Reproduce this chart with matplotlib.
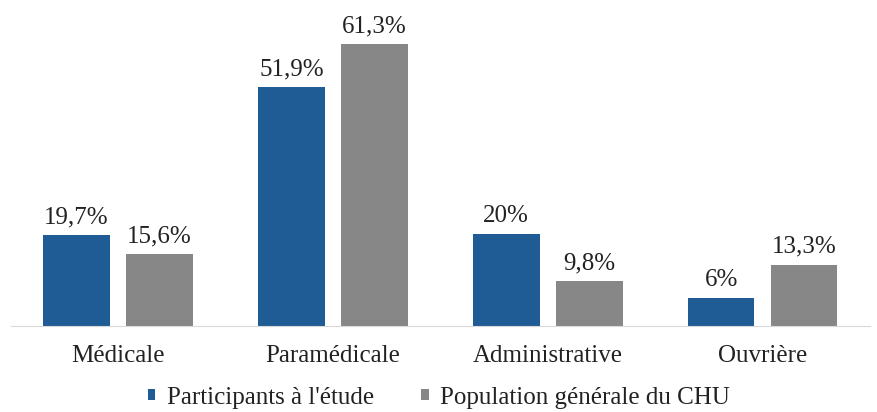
import numpy as np
import matplotlib.pyplot as plt

categories = ["Médicale", "Paramédicale", "Administrative", "Ouvrière"]
participants = [19.7, 51.9, 20, 6]
population = [15.6, 61.3, 9.8, 13.3]
participants_labels = ["19,7%", "51,9%", "20%", "6%"]
population_labels = ["15,6%", "61,3%", "9,8%", "13,3%"]

plt.rcParams['font.family'] = ['Liberation Serif', 'DejaVu Serif']

fig = plt.figure(figsize=(8.78, 4.12), dpi=100)
ax = fig.add_axes([0.012, 0.2087, 0.979, 0.781])

x = np.arange(len(categories))
w = 0.31
off = 0.193
b1 = ax.bar(x - off, participants, w, color='#1f5b94', label="Participants à l'étude")
b2 = ax.bar(x + off, population, w, color='#878787', label="Population générale du CHU")

for bars, labels in [(b1, participants_labels), (b2, population_labels)]:
    for bar, lab in zip(bars, labels):
        ax.annotate(lab, (bar.get_x() + bar.get_width() / 2, bar.get_height()),
                    xytext=(0, 5), textcoords='offset points',
                    ha='center', va='bottom', fontsize=18, color='#222222')

ax.set_xlim(-0.5, 3.5)
ax.set_ylim(0, 70)
ax.set_xticks(x)
ax.set_xticklabels(categories, fontsize=18, color='#222222')
ax.tick_params(axis='x', length=0, pad=14)
ax.set_yticks([])
for s in ['top', 'right', 'left']:
    ax.spines[s].set_visible(False)
ax.spines['bottom'].set_color('#d9d9d9')

fig.legend(loc='center', bbox_to_anchor=(0.5, 0.035), ncol=2, frameon=False,
           fontsize=18, handlelength=0.3, handleheight=0.3, handletextpad=0.45,
           columnspacing=1.9, labelcolor='#222222')

fig.savefig('out.png', dpi=100)
